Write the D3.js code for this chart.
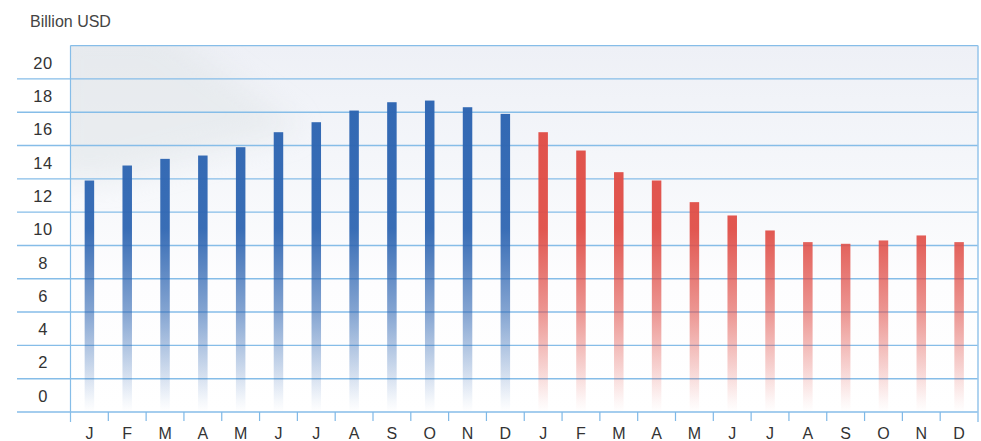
<!DOCTYPE html>
<html>
<head>
<meta charset="utf-8">
<script src="https://cdn.jsdelivr.net/npm/d3@7"></script>
<style>
  html, body { margin: 0; padding: 0; background: #ffffff; }
  svg { display: block; font-family: "Liberation Sans", Arial, sans-serif; }
</style>
</head>
<body>
<svg id="chart" width="981" height="441"></svg>
<script>
// Monthly values, billion USD: first year (blue) then second year (red)
const months = ["J","F","M","A","M","J","J","A","S","O","N","D",
                "J","F","M","A","M","J","J","A","S","O","N","D"];
const yearOne = [12.9, 13.8, 14.2, 14.4, 14.9, 15.8, 16.4, 17.1, 17.6, 17.7, 17.3, 16.9];
const yearTwo = [15.8, 14.7, 13.4, 12.9, 11.6, 10.8, 9.9, 9.2, 9.1, 9.3, 9.6, 9.2];
const yTickLabels = [0, 2, 4, 6, 8, 10, 12, 14, 16, 18, 20];
const gridValues = [-1, 1, 3, 5, 7, 9, 11, 13, 15, 17, 19, 21];
const unitLabel = "Billion USD";

const rows = months.map((m, i) => ({
  key: i,
  month: m,
  value: i < 12 ? yearOne[i] : yearTwo[i - 12],
  series: i < 12 ? "one" : "two"
}));

const svg = d3.select("#chart");
const plotL = 70.5, plotR = 978, plotT = 45.6, plotB = 412;

const x = d3.scaleBand().domain(rows.map(d => d.key)).range([plotL, plotR]).padding(0);
const y = d3.scaleLinear().domain([-1, 21]).range([plotB, plotT]);

const defs = svg.append("defs");

// soft background wash of the plot area
const bg = defs.append("linearGradient").attr("id", "bgWash")
  .attr("x1", 0).attr("y1", 0).attr("x2", 0).attr("y2", 1);
bg.append("stop").attr("offset", "0%").attr("stop-color", "#eef0f6");
bg.append("stop").attr("offset", "30%").attr("stop-color", "#f4f6fa");
bg.append("stop").attr("offset", "65%").attr("stop-color", "#fdfdfe");
bg.append("stop").attr("offset", "100%").attr("stop-color", "#ffffff");

const blur = defs.append("filter").attr("id", "soft").attr("x", "-40%").attr("y", "-40%")
  .attr("width", "180%").attr("height", "180%");
blur.append("feGaussianBlur").attr("stdDeviation", 14);

const clip = defs.append("clipPath").attr("id", "plotClip");
clip.append("rect").attr("x", plotL).attr("y", plotT).attr("width", plotR - plotL).attr("height", plotB - plotT);

// bar fills: full colour at the top, fading out toward the baseline
function barGradient(id, c) {
  const g = defs.append("linearGradient").attr("id", id)
    .attr("gradientUnits", "userSpaceOnUse")
    .attr("x1", 0).attr("x2", 0).attr("y1", plotT).attr("y2", plotB);
  g.append("stop").attr("offset", "0%").attr("stop-color", c).attr("stop-opacity", 1);
  g.append("stop").attr("offset", "50%").attr("stop-color", c).attr("stop-opacity", 0.95);
  g.append("stop").attr("offset", "72%").attr("stop-color", c).attr("stop-opacity", 0.6);
  g.append("stop").attr("offset", "88%").attr("stop-color", c).attr("stop-opacity", 0.25);
  g.append("stop").attr("offset", "97%").attr("stop-color", c).attr("stop-opacity", 0.05);
  g.append("stop").attr("offset", "100%").attr("stop-color", c).attr("stop-opacity", 0);
}
barGradient("gradOne", "#2f66b2");
barGradient("gradTwo", "#e04e47");

// plot background
svg.append("rect").attr("x", plotL).attr("y", plotT)
  .attr("width", plotR - plotL).attr("height", plotB - plotT)
  .attr("fill", "url(#bgWash)");

// grey shading in the upper-left corner
svg.append("g").attr("clip-path", "url(#plotClip)")
  .append("path")
  .attr("d", `M${plotL - 20},${plotT - 20} L${plotL + 90},${plotT - 20} L${plotL + 230},${y(16)} L${plotL + 40},${y(13)} L${plotL - 20},${y(13)} Z`)
  .attr("fill", "#dfe4e6")
  .attr("opacity", 0.5)
  .attr("filter", "url(#soft)");

// horizontal grid lines
svg.append("g").selectAll("line").data(gridValues).join("line")
  .attr("x1", d => d === 21 ? plotL : 17).attr("x2", plotR)
  .attr("y1", d => y(d)).attr("y2", d => y(d))
  .attr("stroke", "#86bde8").attr("stroke-width", 1.4);

// left and right frame
svg.append("line").attr("x1", plotL).attr("x2", plotL).attr("y1", plotT).attr("y2", plotB + 10)
  .attr("stroke", "#86bde8").attr("stroke-width", 1.2);
svg.append("line").attr("x1", plotR).attr("x2", plotR).attr("y1", plotT).attr("y2", plotB + 10)
  .attr("stroke", "#9cc8ec").attr("stroke-width", 1.6);

// bars
const barW = 9.5;
svg.append("g").selectAll("rect").data(rows).join("rect")
  .attr("x", d => x(d.key) + x.bandwidth() / 2 - barW / 2)
  .attr("width", barW)
  .attr("y", d => y(d.value))
  .attr("height", d => y(-1) - y(d.value))
  .attr("fill", d => d.series === "one" ? "url(#gradOne)" : "url(#gradTwo)");

// y-axis labels (no tick marks)
const yAxis = d3.axisLeft(y).tickValues(yTickLabels).tickSize(0).tickPadding(0)
  .tickFormat(d3.format("d"));
const yg = svg.append("g").attr("transform", `translate(55,0)`).call(yAxis);
yg.select(".domain").remove();
yg.selectAll("text").attr("font-size", 16.5).attr("fill", "#333").attr("dy", "0.36em")
  .attr("text-anchor", "middle").attr("x", -12).attr("letter-spacing", 0.5);

// x-axis: ticks on band boundaries, month letters centred in each band
const xAxis = d3.axisBottom(x).tickSize(0).tickPadding(0).tickFormat(i => months[i]);
const xg = svg.append("g").attr("transform", `translate(0,${plotB})`).call(xAxis);
xg.select(".domain").remove();
xg.selectAll("text").attr("font-size", 16).attr("fill", "#333").attr("dy", 0).attr("y", 26.5);

svg.append("g").selectAll("line").data(d3.range(1, months.length)).join("line")
  .attr("x1", i => x(i)).attr("x2", i => x(i))
  .attr("y1", plotB).attr("y2", plotB + 9)
  .attr("stroke", "#7fb8e6").attr("stroke-width", 1.2);

// unit label
svg.append("text").attr("x", 30).attr("y", 27)
  .attr("font-size", 16).attr("fill", "#444").text(unitLabel);
</script>
</body>
</html>
